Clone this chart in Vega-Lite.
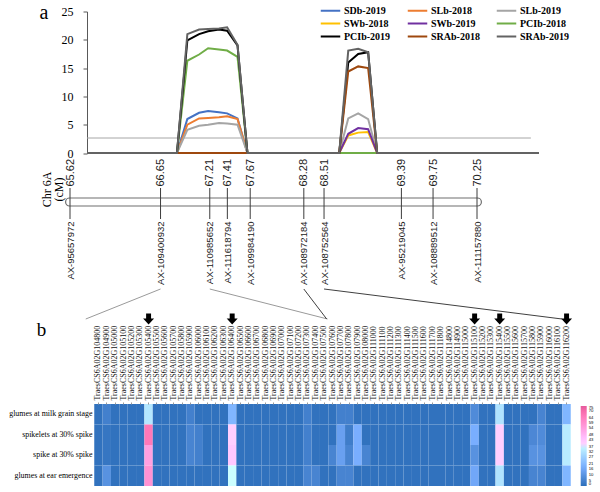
{
  "$schema": "https://vega.github.io/schema/vega-lite/v6.json",
  "padding": {"left": 8, "top": 2.5, "right": 0, "bottom": 0},
  "autosize": {"type": "pad"},
  "background": "white",
  "spacing": 34.5,
  "bounds": "flush",
  "config": {"view": {"stroke": null}, "font": "Liberation Serif"},
  "datasets": {
    "lines": [
      {"u": 0, "SDb-2019": 0, "SLb-2018": 0, "SLb-2019": 0, "SWb-2018": 0, "SWb-2019": 0, "PCIb-2018": 0, "PCIb-2019": 0, "SRAb-2018": 0, "SRAb-2019": 0},
      {"u": 19.9, "SDb-2019": 0, "SLb-2018": 0, "SLb-2019": 0, "SWb-2018": 0, "SWb-2019": 0, "PCIb-2018": 0, "PCIb-2019": 0, "SRAb-2018": 0, "SRAb-2019": 0},
      {"u": 22.2, "SDb-2019": 6.0, "SLb-2018": 5.0, "SLb-2019": 4.1, "SWb-2018": 0, "SWb-2019": 0, "PCIb-2018": 16.3, "PCIb-2019": 19.9, "SRAb-2018": 0, "SRAb-2019": 21.0},
      {"u": 24.8, "SDb-2019": 7.1, "SLb-2018": 6.1, "SLb-2019": 4.8, "SWb-2018": 0, "SWb-2019": 0, "PCIb-2018": 17.4, "PCIb-2019": 21.0, "SRAb-2018": 0, "SRAb-2019": 21.8},
      {"u": 26.8, "SDb-2019": 7.4, "SLb-2018": 6.2, "SLb-2019": 5.0, "SWb-2018": 0, "SWb-2019": 0, "PCIb-2018": 18.5, "PCIb-2019": 21.5, "SRAb-2018": 0, "SRAb-2019": 21.9},
      {"u": 29.2, "SDb-2019": 7.2, "SLb-2018": 6.3, "SLb-2019": 5.3, "SWb-2018": 0, "SWb-2019": 0, "PCIb-2018": 18.3, "PCIb-2019": 21.8, "SRAb-2018": 0, "SRAb-2019": 22.0},
      {"u": 31.0, "SDb-2019": 7.0, "SLb-2018": 6.5, "SLb-2019": 5.2, "SWb-2018": 0, "SWb-2019": 0, "PCIb-2018": 18.1, "PCIb-2019": 21.6, "SRAb-2018": 0, "SRAb-2019": 22.2},
      {"u": 33.3, "SDb-2019": 6.1, "SLb-2018": 6.0, "SLb-2019": 5.0, "SWb-2018": 0, "SWb-2019": 0, "PCIb-2018": 17.0, "PCIb-2019": 19.0, "SRAb-2018": 0, "SRAb-2019": 19.1},
      {"u": 35.5, "SDb-2019": 0, "SLb-2018": 0, "SLb-2019": 0, "SWb-2018": 0, "SWb-2019": 0, "PCIb-2018": 0, "PCIb-2019": 0, "SRAb-2018": 0, "SRAb-2019": 0},
      {"u": 55.8, "SDb-2019": 0, "SLb-2018": 0, "SLb-2019": 0, "SWb-2018": 0, "SWb-2019": 0, "PCIb-2018": 0, "PCIb-2019": 0, "SRAb-2018": 0, "SRAb-2019": 0},
      {"u": 57.8, "SDb-2019": 0, "SLb-2018": 0, "SLb-2019": 6.1, "SWb-2018": 3.1, "SWb-2019": 3.4, "PCIb-2018": 0, "PCIb-2019": 16.0, "SRAb-2018": 14.4, "SRAb-2019": 18.1},
      {"u": 60.0, "SDb-2019": 0, "SLb-2018": 0, "SLb-2019": 7.0, "SWb-2018": 3.6, "SWb-2019": 4.4, "PCIb-2018": 0, "PCIb-2019": 17.5, "SRAb-2018": 15.3, "SRAb-2019": 18.4},
      {"u": 62.2, "SDb-2019": 0, "SLb-2018": 0, "SLb-2019": 6.0, "SWb-2018": 3.7, "SWb-2019": 4.2, "PCIb-2018": 0, "PCIb-2019": 17.8, "SRAb-2018": 15.0, "SRAb-2019": 17.8},
      {"u": 64.2, "SDb-2019": 0, "SLb-2018": 0, "SLb-2019": 0, "SWb-2018": 0, "SWb-2019": 0, "PCIb-2018": 0, "PCIb-2019": 0, "SRAb-2018": 0, "SRAb-2019": 0},
      {"u": 100, "SDb-2019": 0, "SLb-2018": 0, "SLb-2019": 0, "SWb-2018": 0, "SWb-2019": 0, "PCIb-2018": 0, "PCIb-2019": 0, "SRAb-2018": 0, "SRAb-2019": 0}
    ],
    "lod": [{"thr": 2.65, "x0": 0, "x1": 98.2}],
    "chrom": [{"chr": "6A", "start": 65.57, "end": 70.30}],
    "markers": [
      {"marker": "AX-95657972", "cm": 65.62},
      {"marker": "AX-109400932", "cm": 66.65},
      {"marker": "AX-110985652", "cm": 67.21},
      {"marker": "AX-111618794", "cm": 67.41},
      {"marker": "AX-109984190", "cm": 67.67},
      {"marker": "AX-108972184", "cm": 68.28},
      {"marker": "AX-108752564", "cm": 68.51},
      {"marker": "AX-95219045", "cm": 69.39},
      {"marker": "AX-108889512", "cm": 69.75},
      {"marker": "AX-111157880", "cm": 70.25}
    ],
    "links": [
      {"marker_cm": 66.65, "gene_cm": 65.799, "shade": "a"},
      {"marker_cm": 67.21, "gene_cm": 68.55, "shade": "a"},
      {"marker_cm": 68.28, "gene_cm": 68.54, "shade": "b"},
      {"marker_cm": 68.51, "gene_cm": 71.217, "shade": "b"}
    ],
    "genes": [
      {"gene": "TraesCS6A02G104800", "arrow": 0, "glumes at milk grain stage": 1, "spikelets at 30% spike": 1, "spike at 30% spike": 1, "glumes at ear emergence": 1},
      {"gene": "TraesCS6A02G104900", "arrow": 0, "glumes at milk grain stage": 5, "spikelets at 30% spike": 2, "spike at 30% spike": 2, "glumes at ear emergence": 10},
      {"gene": "TraesCS6A02G105000", "arrow": 0, "glumes at milk grain stage": 1, "spikelets at 30% spike": 1, "spike at 30% spike": 1, "glumes at ear emergence": 1},
      {"gene": "TraesCS6A02G105100", "arrow": 0, "glumes at milk grain stage": 1, "spikelets at 30% spike": 1, "spike at 30% spike": 1, "glumes at ear emergence": 1},
      {"gene": "TraesCS6A02G105200", "arrow": 0, "glumes at milk grain stage": 1, "spikelets at 30% spike": 1, "spike at 30% spike": 1, "glumes at ear emergence": 1},
      {"gene": "TraesCS6A02G105300", "arrow": 0, "glumes at milk grain stage": 1, "spikelets at 30% spike": 1, "spike at 30% spike": 1, "glumes at ear emergence": 1},
      {"gene": "TraesCS6A02G105400", "arrow": 1, "glumes at milk grain stage": 33, "spikelets at 30% spike": 66, "spike at 30% spike": 54, "glumes at ear emergence": 58},
      {"gene": "TraesCS6A02G105500", "arrow": 0, "glumes at milk grain stage": 1, "spikelets at 30% spike": 1, "spike at 30% spike": 1, "glumes at ear emergence": 1},
      {"gene": "TraesCS6A02G105600", "arrow": 0, "glumes at milk grain stage": 1, "spikelets at 30% spike": 1, "spike at 30% spike": 1, "glumes at ear emergence": 1},
      {"gene": "TraesCS6A02G105700", "arrow": 0, "glumes at milk grain stage": 1, "spikelets at 30% spike": 1, "spike at 30% spike": 1, "glumes at ear emergence": 1},
      {"gene": "TraesCS6A02G105800", "arrow": 0, "glumes at milk grain stage": 1, "spikelets at 30% spike": 1, "spike at 30% spike": 1, "glumes at ear emergence": 1},
      {"gene": "TraesCS6A02G105900", "arrow": 0, "glumes at milk grain stage": 5, "spikelets at 30% spike": 6, "spike at 30% spike": 6, "glumes at ear emergence": 1},
      {"gene": "TraesCS6A02G106000", "arrow": 0, "glumes at milk grain stage": 1, "spikelets at 30% spike": 5, "spike at 30% spike": 5, "glumes at ear emergence": 1},
      {"gene": "TraesCS6A02G106100", "arrow": 0, "glumes at milk grain stage": 1, "spikelets at 30% spike": 1, "spike at 30% spike": 1, "glumes at ear emergence": 1},
      {"gene": "TraesCS6A02G106200", "arrow": 0, "glumes at milk grain stage": 1, "spikelets at 30% spike": 1, "spike at 30% spike": 1, "glumes at ear emergence": 1},
      {"gene": "TraesCS6A02G106300", "arrow": 0, "glumes at milk grain stage": 1, "spikelets at 30% spike": 1, "spike at 30% spike": 1, "glumes at ear emergence": 1},
      {"gene": "TraesCS6A02G106400", "arrow": 1, "glumes at milk grain stage": 20, "spikelets at 30% spike": 40, "spike at 30% spike": 42, "glumes at ear emergence": 39},
      {"gene": "TraesCS6A02G106500", "arrow": 0, "glumes at milk grain stage": 1, "spikelets at 30% spike": 1, "spike at 30% spike": 1, "glumes at ear emergence": 1},
      {"gene": "TraesCS6A02G106600", "arrow": 0, "glumes at milk grain stage": 1, "spikelets at 30% spike": 1, "spike at 30% spike": 1, "glumes at ear emergence": 1},
      {"gene": "TraesCS6A02G106700", "arrow": 0, "glumes at milk grain stage": 1, "spikelets at 30% spike": 1, "spike at 30% spike": 1, "glumes at ear emergence": 1},
      {"gene": "TraesCS6A02G106800", "arrow": 0, "glumes at milk grain stage": 1, "spikelets at 30% spike": 1, "spike at 30% spike": 1, "glumes at ear emergence": 1},
      {"gene": "TraesCS6A02G106900", "arrow": 0, "glumes at milk grain stage": 1, "spikelets at 30% spike": 1, "spike at 30% spike": 1, "glumes at ear emergence": 1},
      {"gene": "TraesCS6A02G107000", "arrow": 0, "glumes at milk grain stage": 1, "spikelets at 30% spike": 1, "spike at 30% spike": 1, "glumes at ear emergence": 1},
      {"gene": "TraesCS6A02G107100", "arrow": 0, "glumes at milk grain stage": 1, "spikelets at 30% spike": 1, "spike at 30% spike": 1, "glumes at ear emergence": 1},
      {"gene": "TraesCS6A02G107200", "arrow": 0, "glumes at milk grain stage": 1, "spikelets at 30% spike": 1, "spike at 30% spike": 1, "glumes at ear emergence": 1},
      {"gene": "TraesCS6A02G107300", "arrow": 0, "glumes at milk grain stage": 5, "spikelets at 30% spike": 5, "spike at 30% spike": 5, "glumes at ear emergence": 6},
      {"gene": "TraesCS6A02G107400", "arrow": 0, "glumes at milk grain stage": 1, "spikelets at 30% spike": 1, "spike at 30% spike": 1, "glumes at ear emergence": 6},
      {"gene": "TraesCS6A02G107500", "arrow": 0, "glumes at milk grain stage": 1, "spikelets at 30% spike": 1, "spike at 30% spike": 1, "glumes at ear emergence": 1},
      {"gene": "TraesCS6A02G107600", "arrow": 0, "glumes at milk grain stage": 1, "spikelets at 30% spike": 1, "spike at 30% spike": 6, "glumes at ear emergence": 1},
      {"gene": "TraesCS6A02G107700", "arrow": 0, "glumes at milk grain stage": 5, "spikelets at 30% spike": 14, "spike at 30% spike": 14, "glumes at ear emergence": 6},
      {"gene": "TraesCS6A02G107800", "arrow": 0, "glumes at milk grain stage": 5, "spikelets at 30% spike": 4, "spike at 30% spike": 6, "glumes at ear emergence": 6},
      {"gene": "TraesCS6A02G107900", "arrow": 0, "glumes at milk grain stage": 1, "spikelets at 30% spike": 18, "spike at 30% spike": 18, "glumes at ear emergence": 1},
      {"gene": "TraesCS6A02G108000", "arrow": 0, "glumes at milk grain stage": 1, "spikelets at 30% spike": 1, "spike at 30% spike": 6, "glumes at ear emergence": 1},
      {"gene": "TraesCS6A02G111000", "arrow": 0, "glumes at milk grain stage": 1, "spikelets at 30% spike": 1, "spike at 30% spike": 1, "glumes at ear emergence": 1},
      {"gene": "TraesCS6A02G111100", "arrow": 0, "glumes at milk grain stage": 1, "spikelets at 30% spike": 1, "spike at 30% spike": 1, "glumes at ear emergence": 1},
      {"gene": "TraesCS6A02G111200", "arrow": 0, "glumes at milk grain stage": 1, "spikelets at 30% spike": 1, "spike at 30% spike": 1, "glumes at ear emergence": 1},
      {"gene": "TraesCS6A02G111300", "arrow": 0, "glumes at milk grain stage": 1, "spikelets at 30% spike": 1, "spike at 30% spike": 1, "glumes at ear emergence": 1},
      {"gene": "TraesCS6A02G111400", "arrow": 0, "glumes at milk grain stage": 1, "spikelets at 30% spike": 1, "spike at 30% spike": 1, "glumes at ear emergence": 1},
      {"gene": "TraesCS6A02G111500", "arrow": 0, "glumes at milk grain stage": 1, "spikelets at 30% spike": 1, "spike at 30% spike": 1, "glumes at ear emergence": 1},
      {"gene": "TraesCS6A02G111600", "arrow": 0, "glumes at milk grain stage": 1, "spikelets at 30% spike": 1, "spike at 30% spike": 1, "glumes at ear emergence": 1},
      {"gene": "TraesCS6A02G111700", "arrow": 0, "glumes at milk grain stage": 1, "spikelets at 30% spike": 1, "spike at 30% spike": 1, "glumes at ear emergence": 1},
      {"gene": "TraesCS6A02G111800", "arrow": 0, "glumes at milk grain stage": 1, "spikelets at 30% spike": 1, "spike at 30% spike": 1, "glumes at ear emergence": 1},
      {"gene": "TraesCS6A02G114800", "arrow": 0, "glumes at milk grain stage": 1, "spikelets at 30% spike": 1, "spike at 30% spike": 1, "glumes at ear emergence": 1},
      {"gene": "TraesCS6A02G114900", "arrow": 0, "glumes at milk grain stage": 1, "spikelets at 30% spike": 1, "spike at 30% spike": 1, "glumes at ear emergence": 1},
      {"gene": "TraesCS6A02G115000", "arrow": 0, "glumes at milk grain stage": 1, "spikelets at 30% spike": 1, "spike at 30% spike": 1, "glumes at ear emergence": 1},
      {"gene": "TraesCS6A02G115100", "arrow": 1, "glumes at milk grain stage": 8, "spikelets at 30% spike": 18, "spike at 30% spike": 10, "glumes at ear emergence": 16},
      {"gene": "TraesCS6A02G115200", "arrow": 0, "glumes at milk grain stage": 1, "spikelets at 30% spike": 1, "spike at 30% spike": 1, "glumes at ear emergence": 1},
      {"gene": "TraesCS6A02G115300", "arrow": 0, "glumes at milk grain stage": 1, "spikelets at 30% spike": 1, "spike at 30% spike": 1, "glumes at ear emergence": 1},
      {"gene": "TraesCS6A02G115400", "arrow": 1, "glumes at milk grain stage": 32, "spikelets at 30% spike": 40, "spike at 30% spike": 40, "glumes at ear emergence": 32},
      {"gene": "TraesCS6A02G115500", "arrow": 0, "glumes at milk grain stage": 1, "spikelets at 30% spike": 1, "spike at 30% spike": 1, "glumes at ear emergence": 1},
      {"gene": "TraesCS6A02G115600", "arrow": 0, "glumes at milk grain stage": 1, "spikelets at 30% spike": 1, "spike at 30% spike": 1, "glumes at ear emergence": 1},
      {"gene": "TraesCS6A02G115700", "arrow": 0, "glumes at milk grain stage": 1, "spikelets at 30% spike": 1, "spike at 30% spike": 1, "glumes at ear emergence": 1},
      {"gene": "TraesCS6A02G115800", "arrow": 0, "glumes at milk grain stage": 1, "spikelets at 30% spike": 7, "spike at 30% spike": 10, "glumes at ear emergence": 6},
      {"gene": "TraesCS6A02G115900", "arrow": 0, "glumes at milk grain stage": 6, "spikelets at 30% spike": 8, "spike at 30% spike": 10, "glumes at ear emergence": 6},
      {"gene": "TraesCS6A02G116000", "arrow": 0, "glumes at milk grain stage": 1, "spikelets at 30% spike": 1, "spike at 30% spike": 1, "glumes at ear emergence": 1},
      {"gene": "TraesCS6A02G116100", "arrow": 0, "glumes at milk grain stage": 1, "spikelets at 30% spike": 1, "spike at 30% spike": 1, "glumes at ear emergence": 1},
      {"gene": "TraesCS6A02G116200", "arrow": 1, "glumes at milk grain stage": 20, "spikelets at 30% spike": 34, "spike at 30% spike": 34, "glumes at ear emergence": 20}
    ]
  },
  "vconcat": [
    {
      "width": 452,
      "height": 141.5,
      "layer": [
        {
          "data": {"name": "lod"},
          "mark": {"type": "rule", "color": "#a6a6a6", "strokeWidth": 1},
          "encoding": {
            "x": {"field": "x0", "type": "quantitative", "scale": {"domain": [0, 100], "nice": false, "zero": false}, "axis": null},
            "x2": {"field": "x1"},
            "y": {"field": "thr", "type": "quantitative", "scale": {"domain": [0, 25], "nice": false},
              "axis": {"values": [0, 5, 10, 15, 20, 25], "title": null, "grid": false, "labelFont": "Liberation Serif", "labelFontSize": 12, "labelColor": "#000", "labelPadding": 10, "labelOverlap": false, "tickSize": 4, "tickColor": "#595959", "domainColor": "#595959"}}
          }
        },
        {
          "data": {"name": "lines"},
          "transform": [{"fold": ["SDb-2019", "SLb-2018", "SLb-2019", "SWb-2018", "SWb-2019", "PCIb-2018", "PCIb-2019", "SRAb-2018", "SRAb-2019"], "as": ["series", "value"]}],
          "mark": {"type": "line", "strokeWidth": 2},
          "encoding": {
            "x": {"field": "u", "type": "quantitative", "axis": null},
            "y": {"field": "value", "type": "quantitative",
              "axis": {"values": [0, 5, 10, 15, 20, 25], "title": null, "grid": false, "labelFont": "Liberation Serif", "labelFontSize": 12, "labelColor": "#000", "labelPadding": 10, "labelOverlap": false, "tickSize": 4, "tickColor": "#595959", "domainColor": "#595959"}},
            "color": {"field": "series", "type": "nominal",
              "scale": {"domain": ["SDb-2019", "SLb-2018", "SLb-2019", "SWb-2018", "SWb-2019", "PCIb-2018", "PCIb-2019", "SRAb-2018", "SRAb-2019"],
                "range": ["#4472c4", "#ed7d31", "#a5a5a5", "#ffc000", "#7030a0", "#70ad47", "#000000", "#9e480e", "#636363"]},
              "legend": {"orient": "none", "direction": "horizontal", "legendX": 236, "legendY": -8.5, "columns": 3, "title": null, "symbolType": "M-1.5,0H1.5", "symbolSize": 169, "symbolStrokeWidth": 2, "labelFont": "Liberation Serif", "labelFontWeight": "bold", "labelFontSize": 10, "labelColor": "#000", "labelOffset": 6, "columnPadding": 12, "rowPadding": 0}}
          }
        },
        {
          "data": {"values": [{"panel": "a"}]},
          "mark": {"type": "text", "font": "Liberation Serif", "fontSize": 20, "baseline": "alphabetic", "align": "center", "color": "#000"},
          "encoding": {
            "x": {"datum": -9.5, "type": "quantitative", "axis": null},
            "y": {"datum": 23.7, "type": "quantitative",
              "axis": {"values": [0, 5, 10, 15, 20, 25], "title": null, "grid": false, "labelFont": "Liberation Serif", "labelFontSize": 12, "labelColor": "#000", "labelPadding": 10, "labelOverlap": false, "tickSize": 4, "tickColor": "#595959", "domainColor": "#595959"}},
            "text": {"field": "panel"}
          }
        }
      ]
    },
    {
      "width": 491,
      "height": 31,
      "resolve": {"axis": {"x": "independent"}},
      "layer": [
        {
          "data": {"name": "chrom"},
          "mark": {"type": "rect", "fill": "white", "stroke": "#6e6e6e", "strokeWidth": 1.2, "cornerRadius": 4},
          "encoding": {
            "x": {"field": "start", "type": "quantitative", "scale": {"domain": [65.62, 70.25], "range": [-17, 390], "nice": false, "zero": false},
              "axis": {"orient": "top", "values": [65.62, 66.65, 67.21, 67.41, 67.67, 68.28, 68.51, 69.39, 69.75, 70.25], "format": ".2f", "labelAngle": -90, "labelFont": "Liberation Sans", "labelFontSize": 11, "labelColor": "#222", "labelPadding": 2, "ticks": false, "domain": false, "grid": false, "title": null, "labelBound": false, "labelOverlap": false, "labelFlush": false}},
            "x2": {"field": "end"},
            "y": {"datum": "chr", "type": "nominal", "scale": {"type": "band", "paddingInner": 0, "paddingOuter": 0, "range": [10, 18]},
              "axis": {"labels": false, "ticks": false, "domain": false, "title": ["Chr 6A", "(cM)"], "titleX": -41, "titleY": 1, "titleAngle": -90, "titleAlign": "center", "titleBaseline": "middle", "titleFont": "Liberation Serif", "titleFontSize": 12, "titleFontWeight": "normal", "titleLineHeight": 12, "titleColor": "#000"}}
          }
        },
        {
          "data": {"name": "markers"},
          "mark": {"type": "rule", "color": "#3c3c3c", "strokeWidth": 1},
          "encoding": {
            "x": {"field": "cm", "type": "quantitative",
              "axis": {"orient": "bottom", "values": [65.62, 66.65, 67.21, 67.41, 67.67, 68.28, 68.51, 69.39, 69.75, 70.25],
                "labelExpr": "datum.value == 65.62 ? 'AX-95657972' : datum.value == 66.65 ? 'AX-109400932' : datum.value == 67.21 ? 'AX-110985652' : datum.value == 67.41 ? 'AX-111618794' : datum.value == 67.67 ? 'AX-109984190' : datum.value == 68.28 ? 'AX-108972184' : datum.value == 68.51 ? 'AX-108752564' : datum.value == 69.39 ? 'AX-95219045' : datum.value == 69.75 ? 'AX-108889512' : 'AX-111157880'",
                "labelAngle": -90, "labelFont": "Liberation Sans", "labelFontSize": 9.5, "labelColor": "#222", "labelPadding": 2, "ticks": false, "domain": false, "grid": false, "title": null, "labelBound": false, "labelOverlap": false, "labelFlush": false}}
          }
        }
      ]
    },
    {
      "width": 491,
      "height": 232.5,
      "resolve": {"scale": {"x": "independent", "y": "independent"}},
      "layer": [
        {
          "data": {"name": "genes"},
          "transform": [{"fold": ["glumes at milk grain stage", "spikelets at 30% spike", "spike at 30% spike", "glumes at ear emergence"], "as": ["tissue", "value"]}],
          "resolve": {"scale": {"y": "independent"}},
          "layer": [
            {
              "mark": {"type": "rect"},
              "encoding": {
                "x": {"field": "gene", "type": "nominal", "sort": null, "scale": {"paddingInner": 0, "paddingOuter": 0.867},
                  "axis": {"orient": "top", "offset": -150.5, "labelAngle": -90, "labelFont": "Liberation Serif", "labelFontSize": 8, "labelColor": "#111", "labelPadding": 2, "tickSize": 2, "tickColor": "#999", "domain": false, "title": null, "labelOverlap": false, "labelBound": false}},
                "y": {"field": "tissue", "type": "nominal", "sort": ["glumes at milk grain stage", "spikelets at 30% spike", "spike at 30% spike", "glumes at ear emergence"],
                  "scale": {"range": [150.5, 232.5], "paddingInner": 0, "paddingOuter": 0},
                  "axis": {"labelFont": "Liberation Serif", "labelFontSize": 7.9, "labelColor": "#000", "ticks": false, "domain": false, "labelPadding": -5, "title": null}},
                "color": {"field": "value", "type": "quantitative",
                  "scale": {"domain": [0, 40, 75], "range": ["#2c6fba", "#ffffff", "#e55a9c"]},
                  "legend": {"orient": "none", "legendX": 493.7, "legendY": 152.5, "title": null, "direction": "vertical", "gradientLength": 80, "gradientThickness": 6, "gradientStrokeWidth": 0, "labelFontSize": 4.2, "labelFont": "Liberation Sans", "labelOffset": 2, "values": [0, 5, 10, 16, 21, 27, 32, 37, 43, 48, 54, 59, 64, 70, 75], "labelOverlap": false}}
              }
            },
            {
              "transform": [{"filter": "datum.arrow == 1 && datum.tissue == 'glumes at milk grain stage'"}],
              "mark": {"type": "point", "shape": "M-0.45,-1L0.45,-1L0.45,-0.1L1,-0.1L0,1L-1,-0.1L-0.45,-0.1Z", "filled": true, "color": "#000", "opacity": 1, "size": 121},
              "encoding": {
                "x": {"field": "gene", "type": "nominal", "sort": null},
                "y": {"datum": 0, "type": "quantitative", "scale": {"domain": [0, 1], "range": [65.5, 35.5], "nice": false, "zero": false}, "axis": null}
              }
            }
          ]
        },
        {
          "layer": [
            {
              "data": {"name": "links"},
              "mark": {"type": "rule", "strokeWidth": 1},
              "encoding": {
                "x": {"field": "marker_cm", "type": "quantitative", "scale": {"domain": [65.62, 70.25], "range": [-17, 390], "nice": false, "zero": false}, "axis": null},
                "x2": {"field": "gene_cm"},
                "y": {"datum": 1, "type": "quantitative", "scale": {"domain": [0, 1], "range": [65.5, 35.5], "nice": false, "zero": false}, "axis": null},
                "y2": {"datum": 0},
                "color": {"field": "shade", "type": "nominal", "scale": {"domain": ["a", "b"], "range": ["#9a9a9a", "#404040"]}, "legend": null}
              }
            },
            {
              "data": {"values": [{"panel": "b"}]},
              "mark": {"type": "text", "font": "Liberation Serif", "fontSize": 19, "baseline": "alphabetic", "align": "center", "color": "#000"},
              "encoding": {
                "x": {"datum": 65.2958, "type": "quantitative"},
                "y": {"datum": -0.567, "type": "quantitative"},
                "text": {"field": "panel"}
              }
            }
          ]
        }
      ]
    }
  ]
}
